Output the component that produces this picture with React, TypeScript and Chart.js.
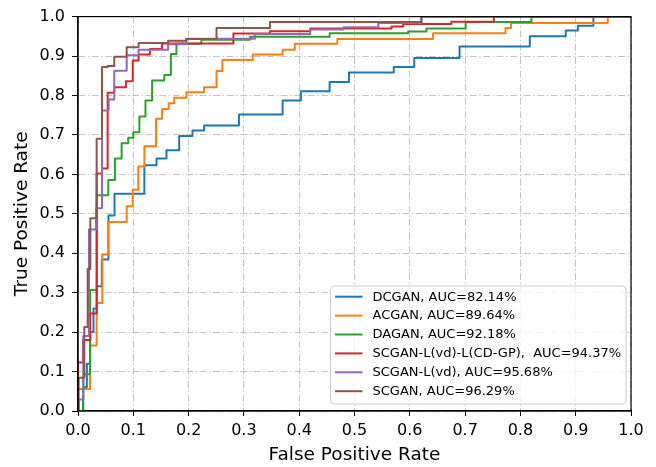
import React, { useEffect, useRef } from "react";
import { Chart, registerables } from "chart.js";

Chart.register(...registerables);

const seriesNames = [
  "DCGAN, AUC=82.14%",
  "ACGAN, AUC=89.64%",
  "DAGAN, AUC=92.18%",
  "SCGAN-L(vd)-L(CD-GP),  AUC=94.37%",
  "SCGAN-L(vd), AUC=95.68%",
  "SCGAN, AUC=96.29%",
];
const seriesColors = ["#1f77b4", "#ff7f0e", "#2ca02c", "#d62728", "#9467bd", "#8c564b"];

// ROC step points: each (fpr, tpr) is where the curve jumps up to tpr
const dcganFpr = [0, 0.009, 0.016, 0.022, 0.028, 0.034, 0.043, 0.055, 0.066, 0.120, 0.142, 0.160, 0.183, 0.207, 0.228, 0.291, 0.370, 0.403, 0.455, 0.490, 0.571, 0.608, 0.690, 0.817, 0.882, 0.904, 0.932, 1.0];
const dcganTpr = [0, 0.06, 0.12, 0.20, 0.26, 0.316, 0.384, 0.496, 0.551, 0.623, 0.640, 0.661, 0.697, 0.711, 0.724, 0.752, 0.787, 0.811, 0.834, 0.858, 0.872, 0.895, 0.924, 0.950, 0.965, 0.977, 1.0, 1.0];

const acganFpr = [0, 0, 0.0217, 0.0337, 0.044, 0.0548, 0.088, 0.0988, 0.109, 0.120, 0.141, 0.152, 0.164, 0.174, 0.196, 0.228, 0.2505, 0.261, 0.316, 0.370, 0.392, 0.469, 0.642, 0.773, 0.783, 0.958, 1.0];
const acganTpr = [0, 0.056, 0.166, 0.274, 0.397, 0.479, 0.519, 0.561, 0.620, 0.671, 0.741, 0.766, 0.780, 0.794, 0.808, 0.821, 0.862, 0.890, 0.904, 0.916, 0.931, 0.943, 0.958, 0.971, 0.984, 1.0, 1.0];

const daganFpr = [0, 0.0096, 0.0217, 0.034, 0.0548, 0.0668, 0.0789, 0.0909, 0.100, 0.111, 0.122, 0.134, 0.156, 0.168, 0.178, 0.223, 0.311, 0.455, 0.597, 0.630, 0.701, 0.820, 1.0];
const daganTpr = [0, 0.093, 0.307, 0.547, 0.586, 0.640, 0.679, 0.693, 0.707, 0.747, 0.787, 0.838, 0.852, 0.905, 0.931, 0.941, 0.949, 0.958, 0.962, 0.970, 0.986, 1.0, 1.0];

const scganVdCdFpr = [0, 0, 0.009, 0.022, 0.0337, 0.0434, 0.0536, 0.0656, 0.0867, 0.099, 0.1096, 0.130, 0.152, 0.281, 0.347, 0.420, 0.567, 0.588, 0.675, 0.752, 1.0];
const scganVdCdTpr = [0, 0.123, 0.180, 0.247, 0.602, 0.615, 0.807, 0.821, 0.836, 0.889, 0.904, 0.918, 0.932, 0.957, 0.963, 0.970, 0.975, 0.981, 0.987, 1.0, 1.0];

const scganVdFpr = [0, 0.0012, 0.0096, 0.0199, 0.0325, 0.0434, 0.0554, 0.0656, 0.088, 0.1096, 0.163, 0.196, 0.320, 0.420, 0.480, 0.543, 0.621, 1.0];
const scganVdTpr = [0, 0.029, 0.190, 0.460, 0.514, 0.762, 0.790, 0.863, 0.902, 0.916, 0.930, 0.944, 0.956, 0.967, 0.973, 0.984, 1.0, 1.0];

const scganFpr = [0, 0.0012, 0.0114, 0.0175, 0.0223, 0.0337, 0.0434, 0.0536, 0.0656, 0.088, 0.1096, 0.163, 0.196, 0.2505, 0.347, 0.621, 1.0];
const scganTpr = [0, 0.084, 0.213, 0.360, 0.489, 0.690, 0.872, 0.875, 0.898, 0.922, 0.933, 0.939, 0.943, 0.971, 0.986, 1.0, 1.0];

const seriesFpr = [dcganFpr, acganFpr, daganFpr, scganVdCdFpr, scganVdFpr, scganFpr];
const seriesTpr = [dcganTpr, acganTpr, daganTpr, scganVdCdTpr, scganVdTpr, scganTpr];

const FONT = "'DejaVu Sans', 'Liberation Sans', sans-serif";

const framePlugin = {
  id: "frame",
  afterDatasetsDraw(chart: any) {
    const { ctx, chartArea } = chart;
    ctx.save();
    ctx.strokeStyle = "#000";
    ctx.lineWidth = 1.2;
    ctx.strokeRect(chartArea.left, chartArea.top, chartArea.right - chartArea.left, chartArea.bottom - chartArea.top);
    ctx.restore();
  },
};

const legendPlugin = {
  id: "innerLegend",
  afterDraw(chart: any) {
    const { ctx } = chart;
    const x0 = 330.5, y0 = 286, w = 295.5, h = 118, r = 4;
    ctx.save();
    ctx.beginPath();
    ctx.moveTo(x0 + r, y0);
    ctx.lineTo(x0 + w - r, y0);
    ctx.arcTo(x0 + w, y0, x0 + w, y0 + r, r);
    ctx.lineTo(x0 + w, y0 + h - r);
    ctx.arcTo(x0 + w, y0 + h, x0 + w - r, y0 + h, r);
    ctx.lineTo(x0 + r, y0 + h);
    ctx.arcTo(x0, y0 + h, x0, y0 + h - r, r);
    ctx.lineTo(x0, y0 + r);
    ctx.arcTo(x0, y0, x0 + r, y0, r);
    ctx.closePath();
    ctx.fillStyle = "rgba(255,255,255,0.8)";
    ctx.fill();
    ctx.strokeStyle = "#cccccc";
    ctx.lineWidth = 1;
    ctx.stroke();
    ctx.font = "13px " + FONT;
    ctx.textBaseline = "middle";
    ctx.textAlign = "left";
    seriesNames.forEach((name, i) => {
      const yy = 296.7 + i * 18.9;
      ctx.strokeStyle = seriesColors[i];
      ctx.lineWidth = 2;
      ctx.beginPath();
      ctx.moveTo(335, yy);
      ctx.lineTo(362.5, yy);
      ctx.stroke();
      ctx.fillStyle = "#000";
      ctx.fillText(name, 372.5, yy + 0.5);
    });
    ctx.restore();
  },
};

export default function App() {
  const canvasRef = useRef<HTMLCanvasElement | null>(null);

  useEffect(() => {
    document.body.style.margin = "0";
    const canvas = canvasRef.current;
    if (!canvas) return;
    const datasets = seriesNames.map((name, i) => ({
      label: name,
      data: seriesFpr[i].map((x, j) => ({ x, y: seriesTpr[i][j] })),
      borderColor: seriesColors[i],
      backgroundColor: seriesColors[i],
      borderWidth: 2,
      pointRadius: 0,
      pointHoverRadius: 0,
      fill: false,
      stepped: "before" as const,
      tension: 0,
      borderJoinStyle: "round" as const,
      order: seriesNames.length - i,
    }));
    const gridCommon = {
      color: "#c4c4c4",
      lineWidth: 1,
      drawTicks: true,
      tickColor: "#000",
      tickWidth: 1,
    };
    const chart = new Chart(canvas, {
      type: "line",
      data: { datasets },
      plugins: [framePlugin, legendPlugin],
      options: {
        animation: false,
        responsive: false,
        maintainAspectRatio: false,
        devicePixelRatio: 1,
        layout: { padding: { left: 0, top: 16, right: 25, bottom: 0 } },
        plugins: { legend: { display: false }, tooltip: { enabled: false } },
        scales: {
          x: {
            type: "linear",
            min: 0,
            max: 1,
            afterFit: (scale: any) => {
              scale.height = 56;
            },
            grid: { ...gridCommon, tickLength: 5 },
            border: { display: true, color: "#000", width: 1.2, dash: [7, 2.5, 1.5, 2.5] },
            ticks: {
              stepSize: 0.1,
              autoSkip: false,
              maxRotation: 0,
              padding: 5,
              color: "#000",
              font: { family: FONT, size: 16 },
              callback: (v: any) => Number(v).toFixed(1),
            },
            title: {
              display: true,
              text: "False Positive Rate",
              color: "#000",
              font: { family: FONT, size: 18.5 },
              padding: { top: 0, bottom: 1 },
            },
          },
          y: {
            type: "linear",
            min: 0,
            max: 1,
            afterFit: (scale: any) => {
              scale.width = 78;
            },
            grid: { ...gridCommon, tickLength: 6 },
            border: { display: true, color: "#000", width: 1.2, dash: [7, 2.5, 1.5, 2.5] },
            ticks: {
              stepSize: 0.1,
              autoSkip: false,
              padding: 7,
              color: "#000",
              font: { family: FONT, size: 16 },
              callback: (v: any) => Number(v).toFixed(1),
            },
            title: {
              display: true,
              text: "True Positive Rate",
              color: "#000",
              font: { family: FONT, size: 18.5 },
              padding: { top: 11, bottom: 0 },
            },
          },
        },
      },
    });
    return () => chart.destroy();
  }, []);

  return (
    <div style={{ position: "absolute", left: 0, top: 0, width: 656, height: 467 }}>
      <canvas ref={canvasRef} width={656} height={467} style={{ width: 656, height: 467, display: "block" }} />
    </div>
  );
}
